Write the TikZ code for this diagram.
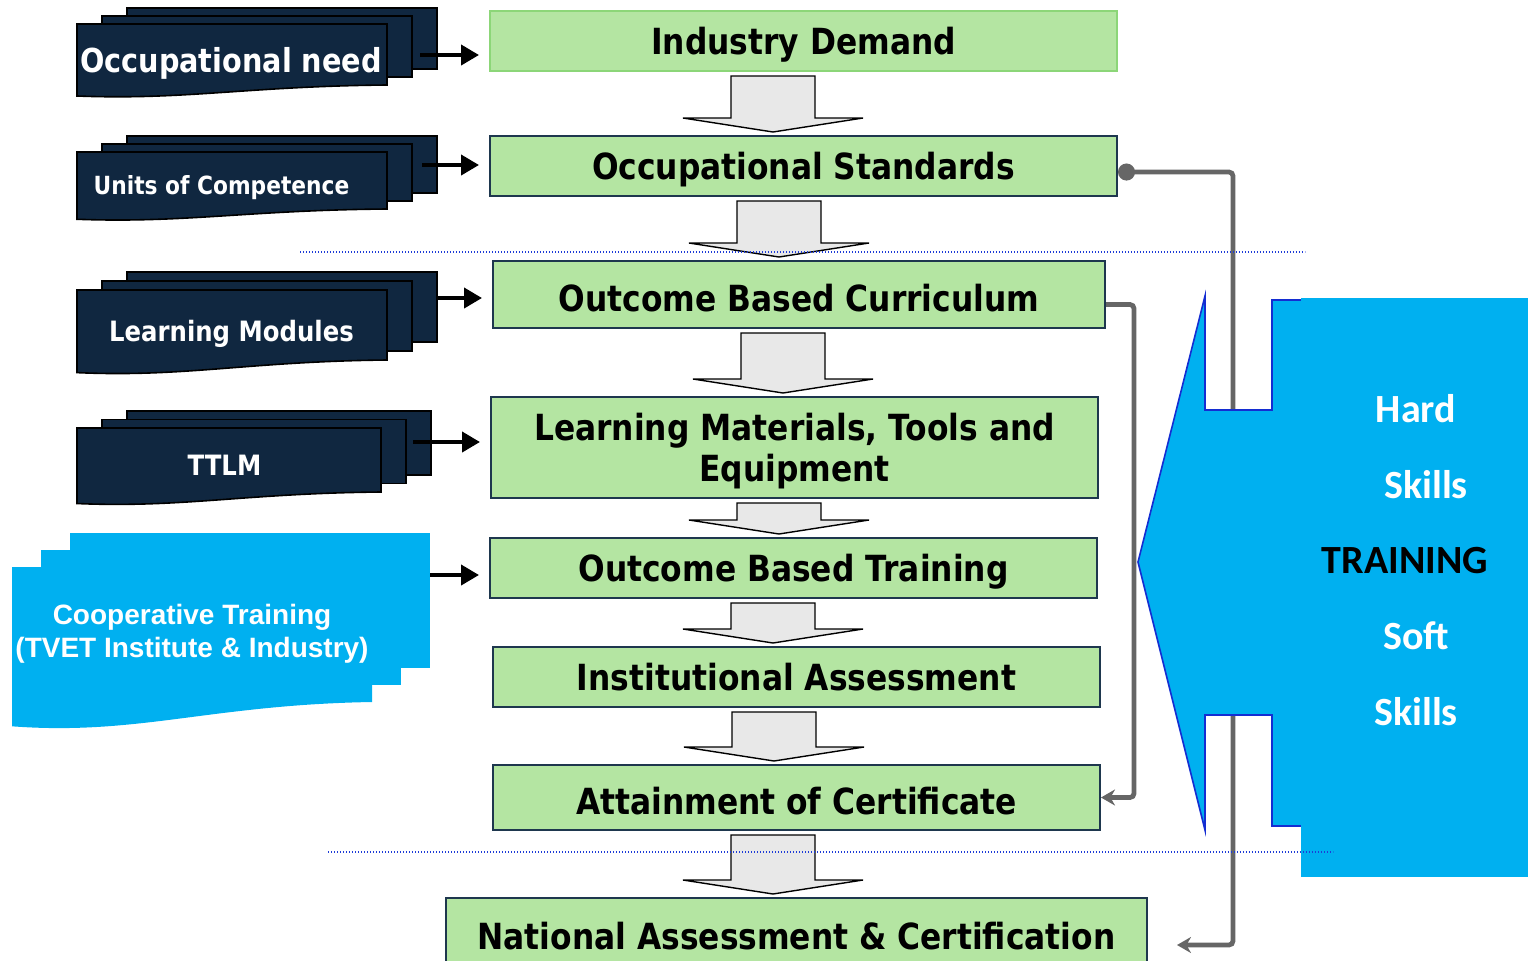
\documentclass[tikz,border=0pt]{standalone}
\usepackage{fontspec}
\usepackage{tikz}
\usetikzlibrary{arrows.meta,calc}
\newfontfamily\boxfont{DejaVu Sans}[FakeStretch=0.87]
\newfontfamily\skillfont{Carlito}
\newfontfamily\coopfont{Liberation Sans}
\definecolor{docnavy}{RGB}{16,39,64}
\definecolor{boxline}{RGB}{30,55,78}
\definecolor{leaf}{RGB}{180,229,162}
\definecolor{leafline}{RGB}{140,214,120}
\definecolor{sky}{RGB}{0,176,240}
\definecolor{skyline}{RGB}{20,45,210}
\definecolor{railgray}{RGB}{102,102,102}
\definecolor{dotblue}{RGB}{30,60,215}
\definecolor{arrowgray}{RGB}{232,232,232}

% three stacked pages: left, top, width, height, dx, dy, style
\newcommand{\docstack}[7]{%
  \draw[#7] ({#1+2*#5},{#2}) rectangle ++(#3,#4);
  \draw[#7] ({#1+#5},{#2+#6}) rectangle ++(#3,#4);
  \draw[#7] ({#1},{#2+2*#6}) -- ({#1+#3},{#2+2*#6}) -- ({#1+#3},{#2+2*#6+#4})
    .. controls ({#1+0.55*#3},{#2+2*#6+1.02*#4}) and ({#1+0.35*#3},{#2+2*#6+1.25*#4}) .. ({#1},{#2+2*#6+1.18*#4}) -- cycle;}

% block arrow from one box down to the next, at x = #3
\newcommand{\flowarrow}[3]{%
  \coordinate (fa) at (#3,0);
  \coordinate (fat) at ($(#1.south -| fa)+(0,4)$);
  \coordinate (fab) at ($(#2.north -| fa)+(0,-3)$);
  \draw[flow] ($(fat)+(-42,0)$) -- ($(fat)+(42,0)$) -- ($(fab)+(42,-14)$) -- ($(fab)+(90,-14)$)
    -- (fab) -- ($(fab)+(-90,-14)$) -- ($(fab)+(-42,-14)$) -- cycle;}

\begin{document}
\begin{tikzpicture}[x=0.5pt, y=-0.5pt,
    box/.style={draw=boxline, fill=leaf, line width=1pt, inner sep=0pt, align=center, font=\boxfont\bfseries\fontsize{18}{20.5}\selectfont},
    capbox/.style={box, text height=17.1pt, text depth=4pt},
    flow/.style={draw=black, fill=arrowgray, line width=0.7pt},
    page/.style={draw=black, fill=docnavy, line width=0.8pt},
    coopfill/.style={draw=none, fill=sky},
    feed/.style={-{Triangle[length=9pt,width=10pt]}, line width=2pt, shorten >=5pt},
    rail/.style={draw=railgray, line width=2.4pt, rounded corners=2pt},
    divider/.style={dotblue, line width=0.7pt, dash pattern=on 0.7pt off 0.8pt},
    doctext/.style={text=white, inner sep=0pt, anchor=base},
    skill/.style={text=white, inner sep=0pt, font=\skillfont\bfseries\fontsize{20}{24}\selectfont}]
      \useasboundingbox (0,0) rectangle (1528,960);
      % main chain
      \node[capbox, draw=leafline, minimum width=313.5pt, minimum height=30pt] (ID) at (803.5,41) {Industry Demand};
      \node[capbox, minimum width=313.5pt, minimum height=30pt] (OS) at (803.5,166) {Occupational Standards};
      \node[capbox, text height=20.6pt, minimum width=306pt, minimum height=33.5pt] (OBC) at (799,294.5) {Outcome Based Curriculum};
      \node[box, minimum width=303.5pt, minimum height=50.5pt] (LMT) at (794.5,447.5) {\rule{0pt}{17.7pt}Learning Materials, Tools and\\Equipment};
      \node[capbox, minimum width=303.5pt, minimum height=30pt] (OBT) at (793.5,568) {Outcome Based Training};
      \node[capbox, minimum width=303.5pt, minimum height=30pt] (IA) at (796.5,677) {Institutional Assessment};
      \node[capbox, text height=20.6pt, minimum width=303.5pt, minimum height=32.5pt] (AoC) at (796.5,797.5) {Attainment of Certificate};
      \node[capbox, minimum width=350.5pt, minimum height=38pt] (NAC) at (796.5,936) {National Assessment \& Certification};
      \flowarrow{ID}{OS}{773}
      \flowarrow{OS}{OBC}{779}
      \flowarrow{OBC}{LMT}{783}
      \flowarrow{LMT}{OBT}{779}
      \flowarrow{OBT}{IA}{773}
      \flowarrow{IA}{AoC}{774}
      \flowarrow{AoC}{NAC}{773}
      % documents on the left
      \docstack{77}{8}{310}{61}{25}{8}{page}
      \node[doctext, font=\boxfont\bfseries\fontsize{16.5}{20}\selectfont] (occneed) at (231,72) {Occupational need};
      \docstack{77}{136}{310}{57}{25}{8}{page}
      \node[doctext, font=\boxfont\bfseries\fontsize{12.5}{15}\selectfont] (units) at (221.5,194) {Units of Competence};
      \docstack{77}{272}{310}{70}{25}{9}{page}
      \node[doctext, font=\boxfont\bfseries\fontsize{14}{17}\selectfont] (modules) at (231.5,341) {Learning Modules};
      \docstack{77}{411}{304}{64}{25}{8.5}{page}
      \node[doctext, font=\boxfont\bfseries\fontsize{14}{17}\selectfont] (ttlm) at (224.5,475) {TTLM};
      \docstack{12}{533}{360}{135}{29}{17}{coopfill}
      \node[text=white, inner sep=0pt, align=center, font=\coopfont\bfseries\fontsize{14}{16.5}\selectfont] (coop) at (192,634) {Cooperative Training\\(TVET Institute \& Industry)};
      \coordinate (occout) at (420,55);
      \coordinate (unitout) at (422,165);
      \coordinate (modout) at (437,298);
      \coordinate (ttlmout) at (413,442);
      \coordinate (coopout) at (430,575);
      \draw[feed] (occout) -- (occout -| ID.west);
      \draw[feed] (unitout) -- (unitout -| OS.west);
      \draw[feed] (modout) -- (modout -| OBC.west);
      \draw[feed] (ttlmout) -- (ttlmout -| LMT.west);
      \draw[feed] (coopout) -- (coopout -| OBT.west);
      % feedback rails
      \coordinate (nacin) at (1177,945);
      \draw[rail, {Circle[length=8.5pt]}-{Stealth[length=7pt,width=8pt]}] ([yshift=-3pt]OS.east) -- ++(115,0) |- (nacin);
      \draw[rail, -{Stealth[length=7pt,width=8pt]}] ([yshift=-5pt]OBC.east) -- ++(28,0) |- (AoC.east);
      % training callout
      \draw[fill=sky, draw=skyline, line width=0.8pt] (1138,562) -- (1205,296) -- (1205,410) -- (1272,410) -- (1272,300) -- (1528,300)
        -- (1528,826) -- (1272,826) -- (1272,715) -- (1205,715) -- (1205,830) -- cycle;
      \fill[sky] (1301,298) rectangle (1528,877);
      \node[skill] (hard) at (1416,409) {Hard};
      \node[skill] (hardsk) at (1426,485) {Skills};
      \node[skill, text=black] (training) at (1405,561) {TRAINING};
      \node[skill] (soft) at (1416,636) {Soft};
      \node[skill] (softsk) at (1416,712) {Skills};
      % dotted dividers
      \draw[divider] (300,252) -- (1305,252);
      \draw[divider] (328,852) -- (1333,852);
\end{tikzpicture}
\end{document}
